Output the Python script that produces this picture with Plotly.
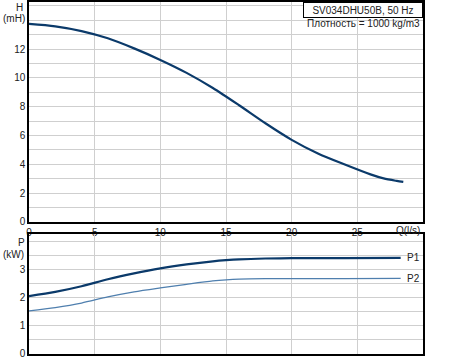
import plotly.graph_objects as go

# Data
q_h = [0, 2, 4, 6, 8, 10, 12, 14, 16, 18, 20, 22, 24, 26, 27, 28, 28.5]
h = [13.75, 13.58, 13.25, 12.75, 12.05, 11.25, 10.35, 9.3, 8.1, 6.85, 5.7, 4.75, 4.0, 3.3, 3.02, 2.85, 2.78]

q_p = [0, 2, 4, 6, 8, 10, 12, 14, 15, 16, 18, 20, 24, 28.3]
p1 = [2.05, 2.2, 2.4, 2.65, 2.86, 3.04, 3.18, 3.29, 3.33, 3.36, 3.39, 3.4, 3.405, 3.41]
p2 = [1.52, 1.64, 1.8, 2.02, 2.2, 2.34, 2.47, 2.59, 2.63, 2.655, 2.67, 2.672, 2.675, 2.68]

x_ticks = [0, 5, 10, 15, 20, 25]
h_ticks = [0, 2, 4, 6, 8, 10, 12]
p_ticks = [0, 1, 2, 3]

title_text = "SV034DHU50B, 50 Hz"
density_text = "Плотность = 1000 kg/m3"

DARK = "#0b3a6a"
LIGHT = "#4f7fae"
GRID = "#cfcfcf"
FONT = dict(family="Liberation Sans, Arial", size=10, color="#222")

fig = go.Figure()
fig.add_trace(go.Scatter(x=q_h, y=h, mode="lines", line=dict(color=DARK, width=2.2, shape="spline", smoothing=0.8),
                         xaxis="x", yaxis="y", showlegend=False))
fig.add_trace(go.Scatter(x=q_p, y=p1, mode="lines", line=dict(color=DARK, width=2.2, shape="spline", smoothing=0.8),
                         xaxis="x2", yaxis="y2", showlegend=False))
fig.add_trace(go.Scatter(x=q_p, y=p2, mode="lines", line=dict(color=LIGHT, width=1.3, shape="spline", smoothing=0.8),
                         xaxis="x2", yaxis="y2", showlegend=False))

W, H = 450, 360
top_bottom_px = 224.3
bot_top_px = 237
bot_bottom_px = 358.5

axis_common = dict(showline=True, linecolor="black", linewidth=1.5, mirror=True,
                   ticks="", zeroline=False, tickfont=FONT, gridcolor=GRID, gridwidth=1)

fig.update_layout(
    width=W, height=H,
    margin=dict(l=29, r=27, t=0, b=0),
    paper_bgcolor="white", plot_bgcolor="white",
    font=FONT,
    xaxis=dict(domain=[0, 1], range=[0, 30], tickvals=x_ticks, anchor="y", **axis_common),
    yaxis=dict(domain=[1 - top_bottom_px / H, 1], range=[0, 15.27], tickvals=h_ticks,
               minor=dict(dtick=1, showgrid=True, gridcolor=GRID), anchor="x", **axis_common),
    xaxis2=dict(domain=[0, 1], range=[0, 30], tickvals=x_ticks, showticklabels=False,
                anchor="y2", **axis_common),
    yaxis2=dict(domain=[1 - bot_bottom_px / H, 1 - bot_top_px / H], range=[0, 4.25], tickvals=p_ticks,
                minor=dict(dtick=0.5, showgrid=True, gridcolor=GRID), anchor="x2", **axis_common),
)

ann = [
    dict(text="H", x=19, y=6),
    dict(text="(mH)", x=14, y=17),
    dict(text="P", x=21, y=245),
    dict(text="(kW)", x=14, y=257),
    dict(text="Q(l/s)", x=408, y=233),
    dict(text=density_text, x=363, y=22),
]
annotations = []
for a in ann:
    annotations.append(dict(text=a["text"], x=(a["x"] - 29) / (W - 29 - 27), y=1 - a["y"] / H,
                            xref="paper", yref="paper", showarrow=False, xanchor="center",
                            yanchor="middle", font=FONT))
annotations.append(dict(text="P1", x=28.6, y=p1[-1], xref="x2", yref="y2", showarrow=False,
                        xanchor="left", yanchor="middle", font=FONT))
annotations.append(dict(text="P2", x=28.6, y=p2[-1], xref="x2", yref="y2", showarrow=False,
                        xanchor="left", yanchor="middle", font=FONT))
annotations.append(dict(text=title_text, x=1, y=1, xref="paper", yref="paper", showarrow=False,
                        xanchor="right", yanchor="top", font=FONT, bordercolor="black",
                        borderwidth=1, borderpad=1, bgcolor="white", width=116, height=12))
fig.update_layout(annotations=annotations)

fig.write_html("out.html")
